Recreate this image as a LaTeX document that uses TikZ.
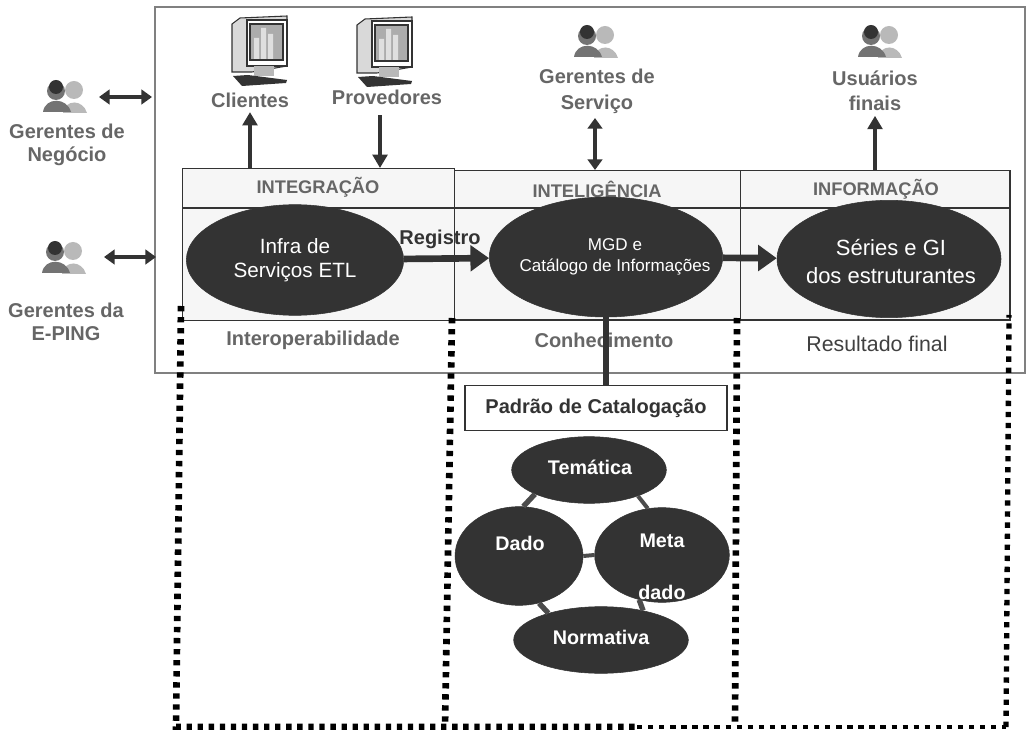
\documentclass[tikz,border=0pt]{standalone}
\usepackage{fontspec}
\setmainfont{Liberation Sans}
\usepackage{xcolor}
\usetikzlibrary{shapes.geometric, arrows.meta, positioning}
\definecolor{ink}{gray}{0.2}
\definecolor{lbl}{gray}{0.4}

\begin{document}
\begin{tikzpicture}[x=0.75pt, y=-0.75pt,
    blob/.style={ellipse, draw=ink, fill=ink, inner sep=0pt, text=white},
    minilabel/.style={font=\bfseries\fontsize{14.8}{17}\selectfont, text=white},
    actor/.style={font=\bfseries\fontsize{15}{17}\selectfont, text=lbl, align=center},
    head/.style={font=\bfseries\fontsize{13.7}{16}\selectfont, text=lbl},
    foot/.style={font=\bfseries\fontsize{15}{17}\selectfont, text=lbl},
    column/.style={draw=ink, fill=gray!7, line width=0.9pt, minimum height=112pt, anchor=north west},
    link/.style={draw=gray!60!black, line width=4pt},
    dots/.style={draw=black, line width=5pt, dash pattern=on 4pt off 4.3pt},
    flow/.style={draw=ink, line width=3pt, -{Triangle[length=10pt,width=11pt]}},
    bigflow/.style={draw=ink, line width=5pt, -{Triangle[length=14pt,width=19pt]}},
    both/.style={draw=ink, line width=2.6pt, {Triangle[length=8pt,width=11pt]}-{Triangle[length=8pt,width=11pt]}},
    screen/.pic={
        \draw[ink, line width=0.8pt, fill=gray!30] (0,8) -- (8,2) -- (55,0) -- (55,50) -- (20,56) -- (0,56) -- cycle;
        \draw[ink, line width=0.8pt, fill=white] (15,4) rectangle (55,50);
        \draw[ink, line width=1.4pt, fill=gray!65] (18,8) rectangle (51,44);
        \fill[gray!25] (22,22) rectangle (27,43) (29,12) rectangle (34,43) (36,18) rectangle (41,43);
        \fill[gray!55] (22,50) rectangle (42,60);
        \fill[ink] (1,60) -- (16,59) -- (55,64) -- (54,67) -- (10,70) -- cycle;
    },
    user/.pic={
        \fill[gray!55] (9,-7) circle (9);
        \fill[gray!55] (-2,16) .. controls (0,2) and (18,2) .. (22,16) -- cycle;
        \fill[gray!90!black] (-9,-6) circle (9);
        \fill[gray!90!black] (-22,15) .. controls (-20,0) and (2,0) .. (6,15) -- cycle;
        \fill[ink] (-9,-10) circle (7);
    }
]
\useasboundingbox (0,0) rectangle (1027,730);

% Outer frame
\draw[gray, line width=0.8pt] (155,7) rectangle (1025,373);

% Columns
\node[column, minimum width=204pt, minimum height=114pt] (integ) at (182,168) {};
\node[column, minimum width=214.5pt] (intel) at (454,170) {};
\node[column, minimum width=202pt] (info) at (740,170) {};
\draw[ink, line width=0.8pt] (integ.west |- intel.north) ++(0,38) -- ++(827,0);

% Column titles
\node[head] (tinteg) at (318,187) {INTEGRAÇÃO};
\node[head] (tintel) at (597,189) {INTELIGÊNCIA};
\node[head] (tinfo) at (876,189) {INFORMAÇÃO};
\node[foot] (finteg) at (313,340) {Interoperabilidade};
\node[foot] (fintel) at (604,340) {Conhecimento};
\node[font=\fontsize{16}{18}\selectfont, text=black!75] (finfo) at (877,344) {Resultado final};

% Dotted columns
\draw[dots] (181,306) -- (176,727) -- (637,727);
\draw[dots, line width=3.5pt] (637,727) -- (1006,727);
\draw[dots, line width=4pt] (1006,727) -- (1009,315);
\draw[dots] (452,318) -- (445,727);
\draw[dots] (737,318) -- (735,727);

% Main blobs
\node[blob, minimum width=163pt, minimum height=83pt] (etl) at (295,260) {};
\node[blob, minimum width=175pt, minimum height=90pt] (mgd) at (606,257) {};
\node[blob, minimum width=168pt, minimum height=88pt] (series) at (889,259) {};
\node[font=\fontsize{15.5}{18}\selectfont, text=white, align=center] (letl) at (295,260) {Infra de\\Serviços ETL};
\node[font=\fontsize{12.8}{15.5}\selectfont, text=white, align=center] (lmgd) at (615,257) {MGD e\\Catálogo de Informações};
\node[font=\fontsize{16.5}{21}\selectfont, text=white, align=center] (lseries) at (891,262) {Séries e GI\\dos estruturantes};

\draw[bigflow] (etl) -- (mgd);
\draw[bigflow] (mgd) -- (series);
\node[font=\bfseries\fontsize{15}{17}\selectfont, text=ink] (reg) at (440,239) {Registro};

% Catalogue
\node[draw=ink, fill=white, line width=1.2pt, minimum width=196.5pt, minimum height=34pt, font=\bfseries\fontsize{15}{17}\selectfont, text=ink] (padrao) at (596,408) {Padrão de Catalogação};
\draw[ink, line width=4pt] (mgd.south) -- (mgd.south |- padrao.north);

\node[blob, minimum width=116pt, minimum height=50pt] (tema) at (589,470) {};
\node[blob, minimum width=96pt, minimum height=74pt] (dado) at (519,556) {};
\node[blob, minimum width=101pt, minimum height=71pt] (meta) at (662,555) {};
\node[blob, minimum width=131pt, minimum height=50pt] (norma) at (601,640) {};
\draw[link] (tema.204) -- (dado.85);
\draw[link, line width=3pt] (tema.-28) -- (meta.107);
\draw[link, line width=3pt] (dado.east) -- (meta.west);
\draw[link] (dado.-67) -- (norma.153);
\draw[link] (meta.243) -- (norma.35);
\node[minilabel] (ltema) at (590,467) {Temática};
\node[minilabel] (ldado) at (520,543) {Dado};
\node[minilabel] (lmeta) at (662,541) {Meta};
\node[minilabel] (ldado2) at (662,592) {dado};
\node[minilabel] (lnorma) at (601,637) {Normativa};

% Actors
\pic at (232,16) {screen};
\pic at (357,17) {screen};
\pic at (596,42) {user};
\pic at (880,42) {user};
\pic at (65,97) {user};
\pic at (64,258) {user};
\node[actor] (clientes) at (250,100) {Clientes};
\node[actor] (prov) at (387,97) {Provedores};
\node[actor] (gserv) at (597,91) {Gerentes de\\[2.5pt]Serviço};
\node[actor] (final) at (875,91) {Usuários\\[2pt]finais};
\node[actor] (gneg) at (67,145) {Gerentes de\\Negócio};
\node[actor] (gping) at (66,322) {Gerentes da\\E-PING};
\coordinate (aneg) at (99,97);
\coordinate (aframe) at (152,97);
\coordinate (bneg) at (104,257);
\coordinate (bframe) at (156,257);
\coordinate (pin) at (380,168);
\coordinate (gin) at (595,170);
\coordinate (fout) at (875,170);
\coordinate (cout) at (250,168);

\draw[both] (aneg) -- (aframe);
\draw[both] (bneg) -- (bframe);
\draw[flow] (cout) -- (cout |- clientes.south);
\draw[flow, line width=2.6pt] (pin |- prov.south) ++(0,6) -- (pin);
\draw[both] (gin |- gserv.south) -- (gin);
\draw[flow] (fout) -- (fout |- final.south);

\end{tikzpicture}
\end{document}
